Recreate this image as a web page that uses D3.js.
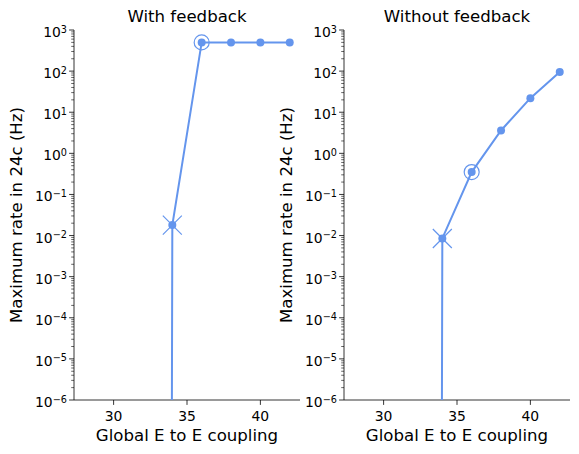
<!DOCTYPE html>
<html>
<head>
<meta charset="utf-8">
<script src="https://cdn.jsdelivr.net/npm/d3@7"></script>
<style>
  body { margin: 0; background: #fff; }
  text { font-family: "DejaVu Sans", sans-serif; fill: #000; }
</style>
</head>
<body>
<svg id="grafico"></svg>
<script>
const largura = 579;
const altura = 454;

// data
const coupling = [28, 30, 32, 34, 36, 38, 40, 42];
const rateWithFeedback = [0, 0, 0, 0.018, 500, 500, 500, 500];
const rateWithoutFeedback = [0, 0, 0, 0.0085, 0.35, 3.6, 22, 95];
const onsetCoupling = 34;   // marked with x
const ringCoupling = 36;    // marked with open circle
const titles = ["With feedback", "Without feedback"];
const xTicks = [30, 35, 40];
const yTicks = [1e-6, 1e-5, 1e-4, 1e-3, 1e-2, 1e-1, 1e0, 1e1, 1e2, 1e3];

const cor = "#6495ed";

const svg = d3.select("#grafico")
  .attr("width", largura)
  .attr("height", altura);

const paineis = [
  { left: 74, right: 300, top: 30, bottom: 400, vals: rateWithFeedback, title: titles[0] },
  { left: 344, right: 570, top: 30, bottom: 400, vals: rateWithoutFeedback, title: titles[1] }
];

paineis.forEach((p, i) => {
  const x = d3.scaleLinear().domain([27.3, 42.7]).range([p.left, p.right]);
  const y = d3.scaleLog().domain([1e-6, 1e3]).range([p.bottom, p.top]);

  const g = svg.append("g");

  // clip region
  const clipId = "clip" + i;
  svg.append("clipPath").attr("id", clipId)
    .append("rect")
    .attr("x", p.left).attr("y", p.top - 15)
    .attr("width", p.right - p.left + 15).attr("height", p.bottom - p.top + 15);

  // minor ticks
  const minor = [];
  for (let e = -6; e < 3; e++) {
    for (let k = 2; k <= 9; k++) minor.push(k * Math.pow(10, e));
  }
  g.selectAll(".minor").data(minor).join("line")
    .attr("x1", p.left).attr("x2", p.left - 2.8)
    .attr("y1", d => y(d)).attr("y2", d => y(d))
    .attr("stroke", "#000").attr("stroke-width", 0.6);

  // major y ticks
  const yt = g.selectAll(".ytick").data(yTicks).join("g")
    .attr("transform", d => `translate(0,${y(d)})`);
  yt.append("line").attr("x1", p.left).attr("x2", p.left - 4.9)
    .attr("stroke", "#000").attr("stroke-width", 0.8);
  const lbl = yt.append("text")
    .attr("x", p.left - 7).attr("y", 7)
    .attr("text-anchor", "end")
    .style("font-size", "13.9px");
  lbl.append("tspan").text("10");
  lbl.append("tspan")
    .attr("dy", -4.5)
    .style("font-size", "9.7px")
    .text(d => String(Math.round(Math.log10(d))).replace("-", "\u2212"));

  // x ticks
  const xt = g.selectAll(".xtick").data(xTicks).join("g")
    .attr("transform", d => `translate(${x(d)},${p.bottom})`);
  xt.append("line").attr("y1", 0).attr("y2", 4.9)
    .attr("stroke", "#000").attr("stroke-width", 0.8);
  xt.append("text").attr("y", 21).attr("text-anchor", "middle")
    .style("font-size", "13.9px").text(d => d);

  // spines
  g.append("line").attr("x1", p.left).attr("x2", p.left)
    .attr("y1", p.top).attr("y2", p.bottom)
    .attr("stroke", "#000").attr("stroke-width", 0.8);
  g.append("line").attr("x1", p.left).attr("x2", p.right)
    .attr("y1", p.bottom).attr("y2", p.bottom)
    .attr("stroke", "#000").attr("stroke-width", 0.8);

  // labels
  g.append("text")
    .attr("x", (p.left + p.right) / 2).attr("y", p.bottom + 41)
    .attr("text-anchor", "middle").style("font-size", "16.6px")
    .text("Global E to E coupling");
  g.append("text")
    .attr("transform", `translate(${p.left - 52},${(p.top + p.bottom) / 2}) rotate(-90)`)
    .attr("text-anchor", "middle").style("font-size", "16.6px")
    .text("Maximum rate in 24c (Hz)");
  g.append("text")
    .attr("x", (p.left + p.right) / 2).attr("y", p.top - 8)
    .attr("text-anchor", "middle").style("font-size", "16.6px")
    .text(p.title);

  // data line (zeros clipped like matplotlib's nonpositive clip)
  const dados = coupling.map((c, j) => ({ c: c, v: p.vals[j] }));
  const linha = d3.line()
    .x(d => x(d.c))
    .y(d => y(d.v > 0 ? d.v : 1e-300));

  const plot = svg.append("g").attr("clip-path", `url(#${clipId})`);
  plot.append("path").datum(dados)
    .attr("fill", "none").attr("stroke", cor).attr("stroke-width", 2)
    .attr("d", linha);

  plot.selectAll(".dot").data(dados.filter(d => d.v > 0)).join("circle")
    .attr("cx", d => x(d.c)).attr("cy", d => y(d.v))
    .attr("r", 4).attr("fill", cor);

  // special markers
  const onset = dados.find(d => d.c === onsetCoupling);
  const s = 9.5;
  const ox = x(onset.c), oy = y(onset.v);
  plot.append("path")
    .attr("d", `M${ox - s},${oy - s}L${ox + s},${oy + s}M${ox - s},${oy + s}L${ox + s},${oy - s}`)
    .attr("stroke", cor).attr("stroke-width", 1.2).attr("fill", "none");

  const ring = dados.find(d => d.c === ringCoupling);
  plot.append("circle")
    .attr("cx", x(ring.c)).attr("cy", y(ring.v))
    .attr("r", 7.5).attr("fill", "none")
    .attr("stroke", cor).attr("stroke-width", 1.2);
});
</script>
</body>
</html>
